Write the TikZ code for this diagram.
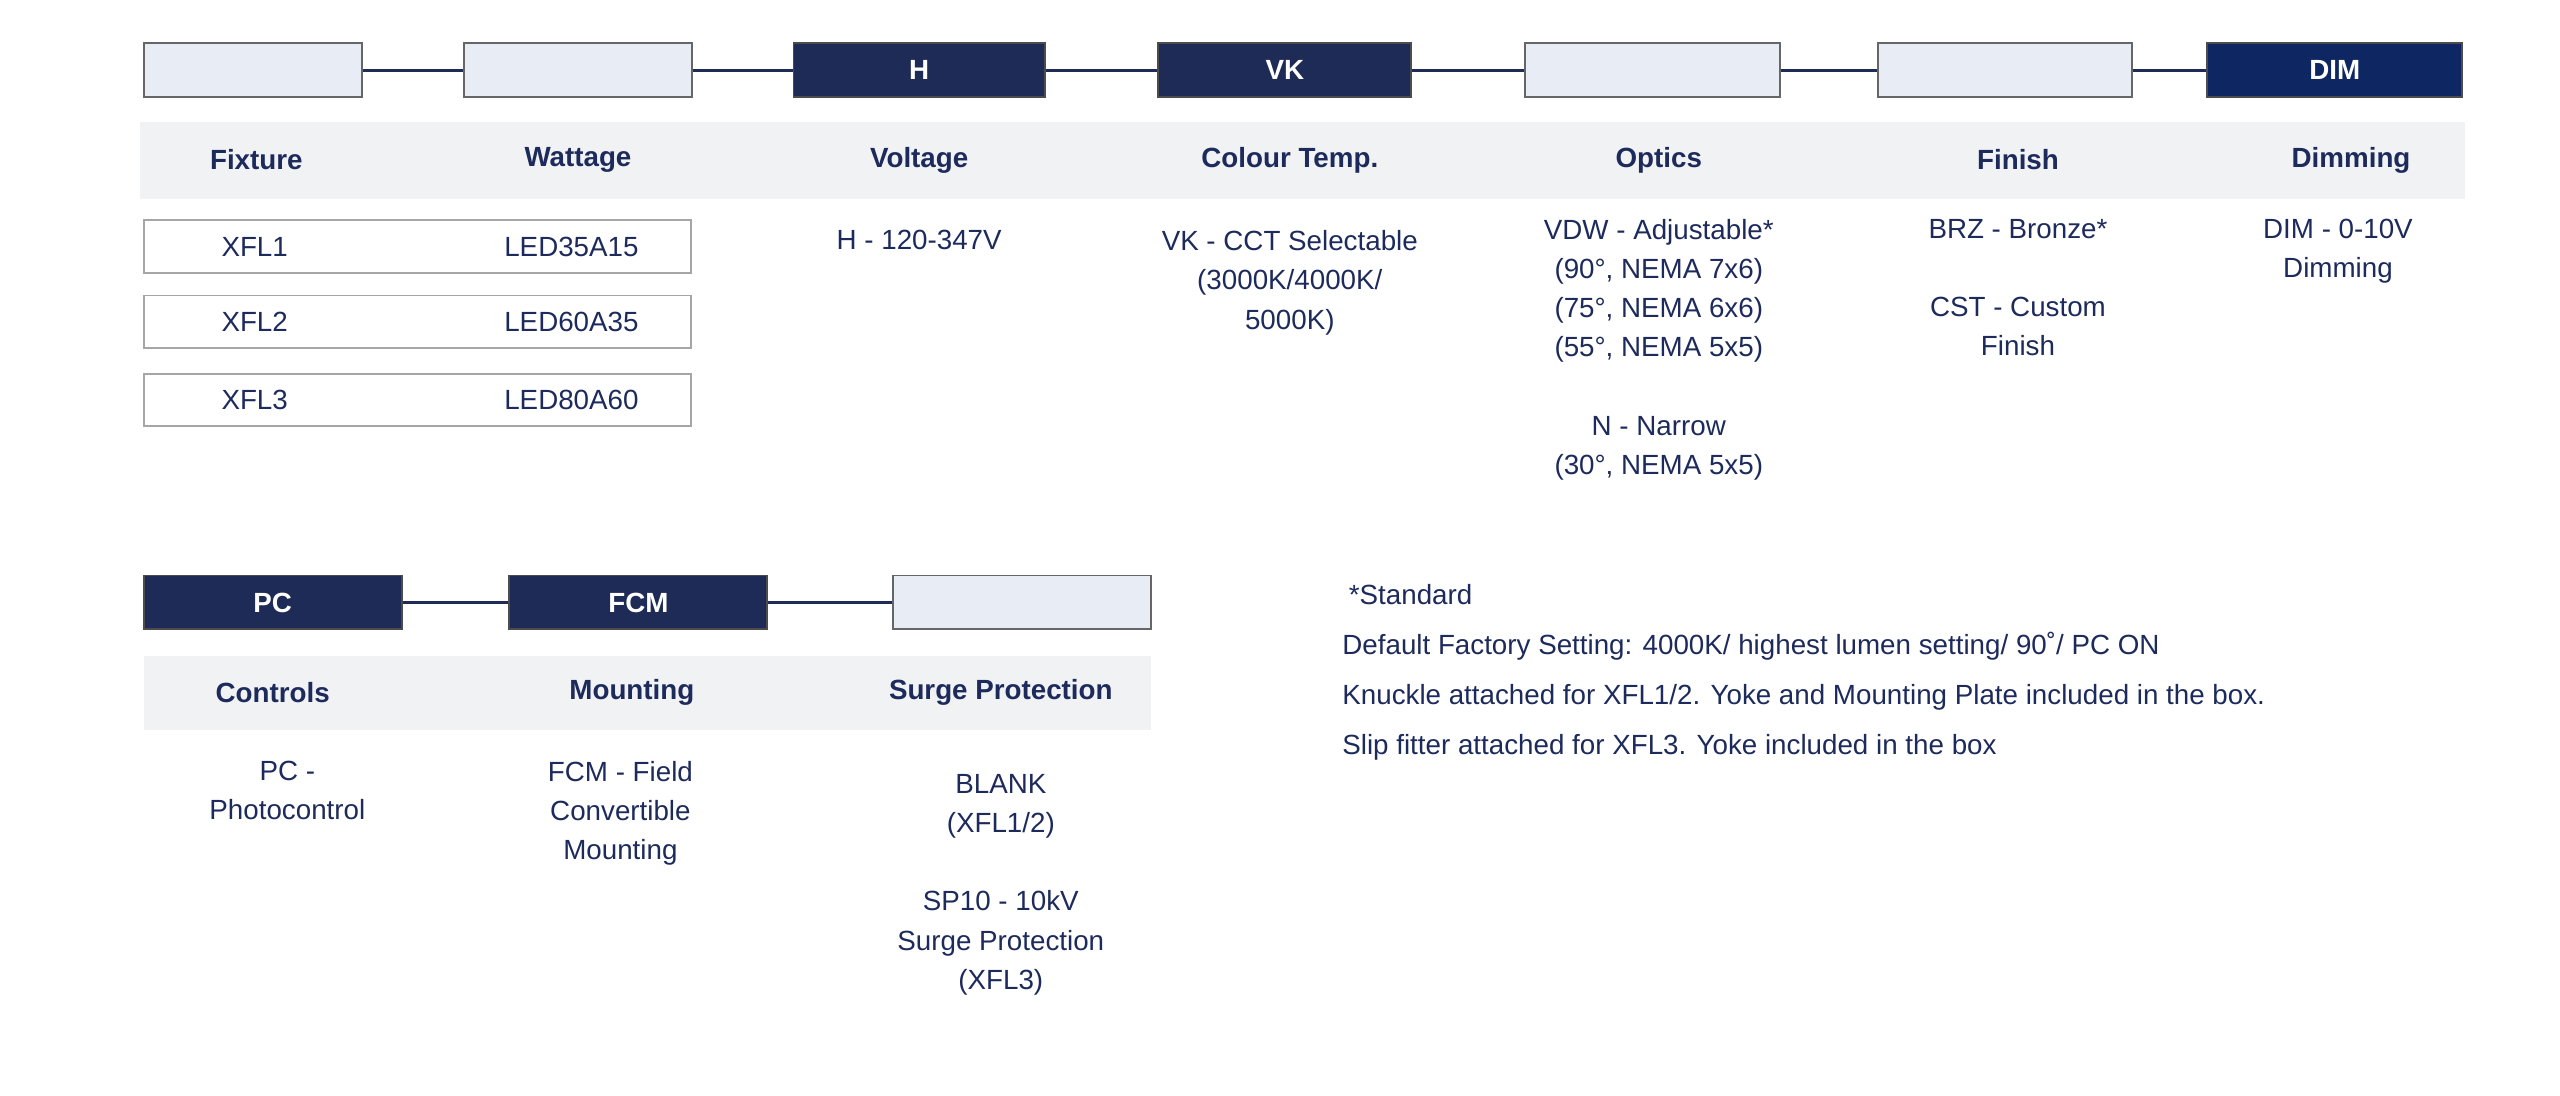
\documentclass[tikz,border=0pt]{standalone}
\usepackage{fontspec}
\setmainfont{Liberation Sans}
\usetikzlibrary{positioning}
\definecolor{navy}{HTML}{1F2B57}
\definecolor{dimnavy}{HTML}{0E2662}
\definecolor{boxfill}{HTML}{E8EDF5}
\definecolor{band}{HTML}{F1F2F3}
\definecolor{txt}{HTML}{1D2A5C}
\begin{document}
\begin{tikzpicture}[x=1pt,y=-1pt,
  every node/.style={font=\fontsize{17}{24}\selectfont,text=txt,align=center,inner sep=0pt},
  blank/.style={draw=gray!80!black,fill=boxfill,line width=1.2pt,minimum height=33pt},
  code/.style={fill=navy,draw=black!70,line width=1.2pt,minimum height=33pt,text=white,font=\fontsize{17}{20}\selectfont\bfseries},
  head/.style={font=\fontsize{17}{20}\selectfont\bfseries},
  fixbox/.style={draw=gray!70,line width=1.2pt,minimum width=335pt,minimum height=32pt},
  link/.style={navy,line width=2pt}]
  \useasboundingbox (0,0) rectangle (1568,671);
  % top row of the ordering code
  \node[blank,minimum width=134pt] (fixture) at (155,43) {};
  \node[blank,minimum width=140pt] (wattage) at (354,43) {};
  \node[code,minimum width=154pt] (voltage) at (563,43) {H};
  \node[code,minimum width=155pt] (cct) at (787,43) {VK};
  \node[blank,minimum width=156pt] (optics) at (1012,43) {};
  \node[blank,minimum width=156pt] (finish) at (1228,43) {};
  \node[code,fill=dimnavy,minimum width=156pt] (dimming) at (1430,43) {DIM};
  \draw[link] (fixture) -- (wattage) (wattage) -- (voltage) (voltage) -- (cct)
    (cct) -- (optics) (optics) -- (finish) (finish) -- (dimming);
  \fill[band] (86,75) rectangle (1510,122);
  \node[head] at (157,98) {Fixture};
  \node[head] at (354,98) {Wattage};
  \node[head] at (563,98) {Voltage};
  \node[head] at (790,98) {Colour Temp.};
  \node[head] at (1016,98) {Optics};
  \node[head] at (1236,98) {Finish};
  \node[head] at (1440,98) {Dimming};
  % fixture options
  \foreach \y/\f/\w in {151/XFL1/LED35A15,197/XFL2/LED60A35,245/XFL3/LED80A60}{
    \node[fixbox] at (255.5,\y) {};
    \node at (156,\y) {\f};
    \node at (350,\y) {\w};
  }
  \node[anchor=north] (vtxt) at (563,141) {H - 120-347V};
  \node[anchor=north] (ctxt) at (790,141) {VK - CCT Selectable\\(3000K/4000K/\\5000K)};
  \node[anchor=north] (otxt) at (1016,134) {VDW - Adjustable*\\(90°, NEMA 7x6)\\(75°, NEMA 6x6)\\(55°, NEMA 5x5)\\[24pt]N - Narrow\\(30°, NEMA 5x5)};
  \node[anchor=north] (ftxt) at (1236,134) {BRZ - Bronze*\\[24pt]CST - Custom\\Finish};
  \node[anchor=north] (dtxt) at (1432,134) {DIM - 0-10V\\Dimming};
  % bottom row
  \node[code,minimum width=158pt] (controls) at (167,369) {PC};
  \node[code,minimum width=158pt] (mounting) at (391,369) {FCM};
  \node[blank,minimum width=158pt] (surge) at (626,369) {};
  \draw[link] (controls) -- (mounting) (mounting) -- (surge);
  \fill[band] (88,402) rectangle (705,447);
  \node[head] at (167,424) {Controls};
  \node[head] at (387,424) {Mounting};
  \node[head] at (613,424) {Surge Protection};
  \node[anchor=north] (ptxt) at (176,466) {PC -\\Photocontrol};
  \node[anchor=north] (mtxt) at (380,466) {FCM - Field\\Convertible\\Mounting};
  \node[anchor=north] (stxt) at (613,474) {BLANK\\(XFL1/2)\\[24pt]SP10 - 10kV\\Surge Protection\\(XFL3)};
  % notes
  \node[anchor=west] at (826,364) {*Standard};
  \node[anchor=west] at (822,396) {Default Factory Setting: 4000K/ highest lumen setting/ 90˚/ PC ON};
  \node[anchor=west] at (822,427) {Knuckle attached for XFL1/2. Yoke and Mounting Plate included in the box.};
  \node[anchor=west] at (822,458) {Slip fitter attached for XFL3. Yoke included in the box};
\end{tikzpicture}
\end{document}
